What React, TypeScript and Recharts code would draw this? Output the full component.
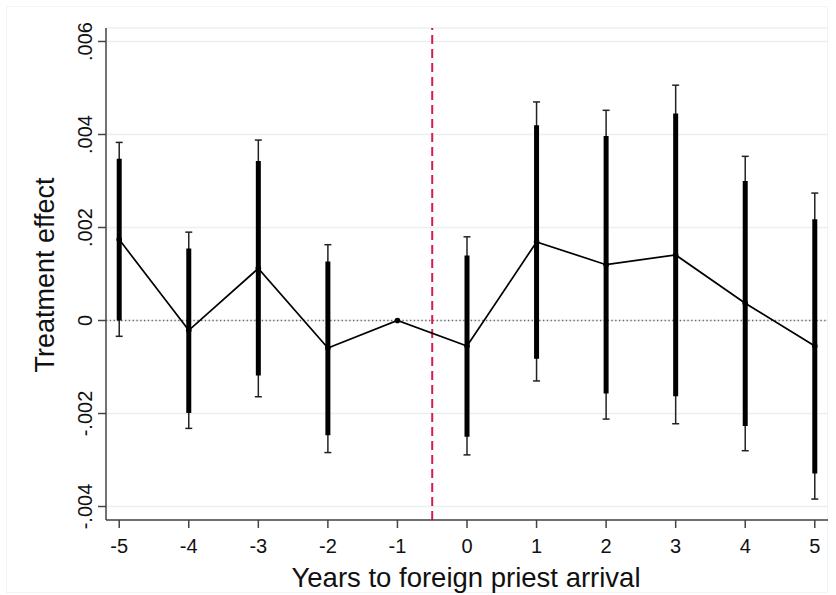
import React from "react"
import { ComposedChart, Line, ErrorBar, XAxis, YAxis, CartesianGrid, ReferenceLine } from "recharts"

// event-time relative to arrival
const years = [-5, -4, -3, -2, -1, 0, 1, 2, 3, 4, 5]
// point estimates
const estimates = [0.00174, -0.00021, 0.00112, -0.00059, 0, -0.00055, 0.00169, 0.0012, 0.00141, 0.00037, -0.00055]
// inner (thick) interval
const innerLow = [0.0, -0.00199, -0.00118, -0.00247, null, -0.0025, -0.00082, -0.00157, -0.00163, -0.00227, -0.00329]
const innerHigh = [0.00348, 0.00155, 0.00343, 0.00127, null, 0.0014, 0.0042, 0.00397, 0.00445, 0.003, 0.00218]
// outer (capped) interval
const outerLow = [-0.00034, -0.00232, -0.00164, -0.00284, null, -0.00289, -0.0013, -0.00212, -0.00222, -0.0028, -0.00384]
const outerHigh = [0.00383, 0.0019, 0.00388, 0.00163, null, 0.0018, 0.0047, 0.00452, 0.00506, 0.00353, 0.00274]

const yTicks = [-0.004, -0.002, 0, 0.002, 0.004, 0.006]
const xTicks = years

const font = "'Liberation Sans', Arial, sans-serif"

const toErr = (lo: number | null, hi: number | null, v: number) =>
  lo == null || hi == null ? null : [v - lo, hi - v]

const data = years.map((year, i) => ({
  year,
  est: estimates[i],
  inner: toErr(innerLow[i], innerHigh[i], estimates[i]),
  outer: toErr(outerLow[i], outerHigh[i], estimates[i]),
}))

const fmtY = (v: number) => (v === 0 ? "0" : v.toFixed(3).replace("0.", "."))

const YTick = ({ x, y, payload }: any) => (
  <text
    transform={`translate(${x - 4},${y}) rotate(-90)`}
    textAnchor="middle"
    fontSize={20}
    fontFamily={font}
    fill="#111"
  >
    {fmtY(payload.value)}
  </text>
)

const YTitle = () => (
  <text transform="translate(54,275) rotate(-90)" textAnchor="middle" fontSize={27} fontFamily={font} fill="#111">
    Treatment effect
  </text>
)

const XTitle = () => (
  <text x={466} y={587} textAnchor="middle" fontSize={27.5} fontFamily={font} fill="#111">
    Years to foreign priest arrival
  </text>
)

export default function App() {
  return (
    <div style={{ position: "absolute", left: 0, top: 0, width: 836, height: 595, background: "#fff" }}>
      <div
        style={{
          position: "absolute",
          left: 6,
          top: 6,
          width: 822,
          height: 587,
          border: "1px solid #f2f4f5",
          boxSizing: "border-box",
        }}
      />
      <ComposedChart
        width={836}
        height={595}
        data={data}
        margin={{ top: 28, right: 8, bottom: 0, left: 0 }}
        style={{ position: "absolute", left: 0, top: 0 }}
      >
        <CartesianGrid vertical={false} stroke="#e8f0f4" strokeWidth={1.5} />
        <XAxis
          dataKey="year"
          type="number"
          domain={[-5.19, 5.19]}
          ticks={xTicks}
          height={75}
          tickSize={8}
          tickMargin={11}
          stroke="#444"
          strokeWidth={1.5}
          tick={{ fill: "#111", fontSize: 20, fontFamily: font }}
          label={<XTitle />}
        />
        <YAxis
          type="number"
          domain={[-0.00429, 0.00629]}
          ticks={yTicks}
          width={106}
          tickSize={8}
          tickMargin={2}
          stroke="#444"
          strokeWidth={1.5}
          tick={<YTick />}
          label={<YTitle />}
          allowDataOverflow
        />
        <ReferenceLine y={0} stroke="#666" strokeWidth={1.3} strokeDasharray="1.3 2.5" />
        <ReferenceLine x={-0.5} stroke="#d81b4a" strokeWidth={2} strokeDasharray="9 5" />
        <Line
          dataKey="est"
          stroke="#000"
          strokeWidth={1.7}
          dot={{ r: 2.8, fill: "#000", stroke: "#000", strokeWidth: 0 }}
          activeDot={false}
          isAnimationActive={false}
        >
          <ErrorBar dataKey="outer" direction="y" width={3.5} stroke="#222" strokeWidth={1.5} isAnimationActive={false} />
          <ErrorBar dataKey="inner" direction="y" width={0} stroke="#000" strokeWidth={5} isAnimationActive={false} />
        </Line>
      </ComposedChart>
    </div>
  )
}
